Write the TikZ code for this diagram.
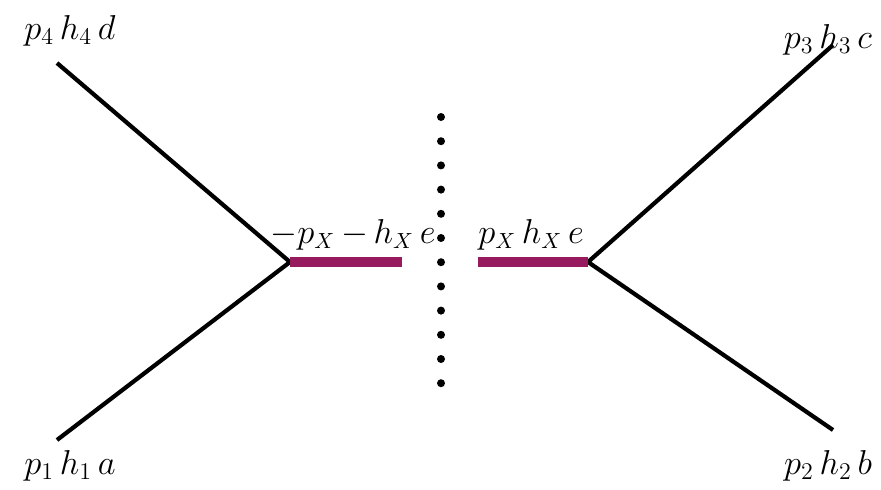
\documentclass[tikz,border=0pt]{standalone}
\definecolor{barcol}{RGB}{152,26,94}
\tikzset{
  leg/.style={line width=2.1pt, black},
  bar/.style={line width=4.6pt, barcol},
  lab/.style={font=\fontsize{17}{20}\selectfont, inner sep=0pt},
  midlab/.style={lab, font=\fontsize{16}{19}\selectfont},
  dotmark/.style={circle, fill=black, inner sep=0pt, minimum size=4pt}
}
\begin{document}
\begin{tikzpicture}[x=0.5pt, y=-0.5pt]
\useasboundingbox (0,0) rectangle (881,489);
\coordinate (L) at (290,262);
\coordinate (R) at (588,262);
\coordinate (e4) at (57,63);
\coordinate (e1) at (57,440);
\coordinate (e3) at (833,45);
\coordinate (e2) at (833,430);
\coordinate (lb) at (402,262);
\coordinate (rb) at (478,262);
\draw[leg] (e4) -- (L) -- (e1);
\draw[leg] (e3) -- (R) -- (e2);
\draw[bar] (L) -- (lb);
\draw[bar] (rb) -- (R);
\foreach \i in {0,...,11} {
  \node[dotmark] (d\i) at (441,{117+\i*24.2}) {};
}
\node[lab] (t4) at (70,31) {$p_4\,h_4\,d$};
\node[lab] (t1) at (70,466) {$p_1\,h_1\,a$};
\node[lab] (t3) at (828,40) {$p_3\,h_3\,c$};
\node[lab] (t2) at (828,466) {$p_2\,h_2\,b$};
\node[midlab] (tl) at (353,235) {${-}p_X\,{-}\,h_X\,e$};
\node[midlab] (tr) at (531,235) {$p_X\,h_X\,e$};
\end{tikzpicture}
\end{document}
